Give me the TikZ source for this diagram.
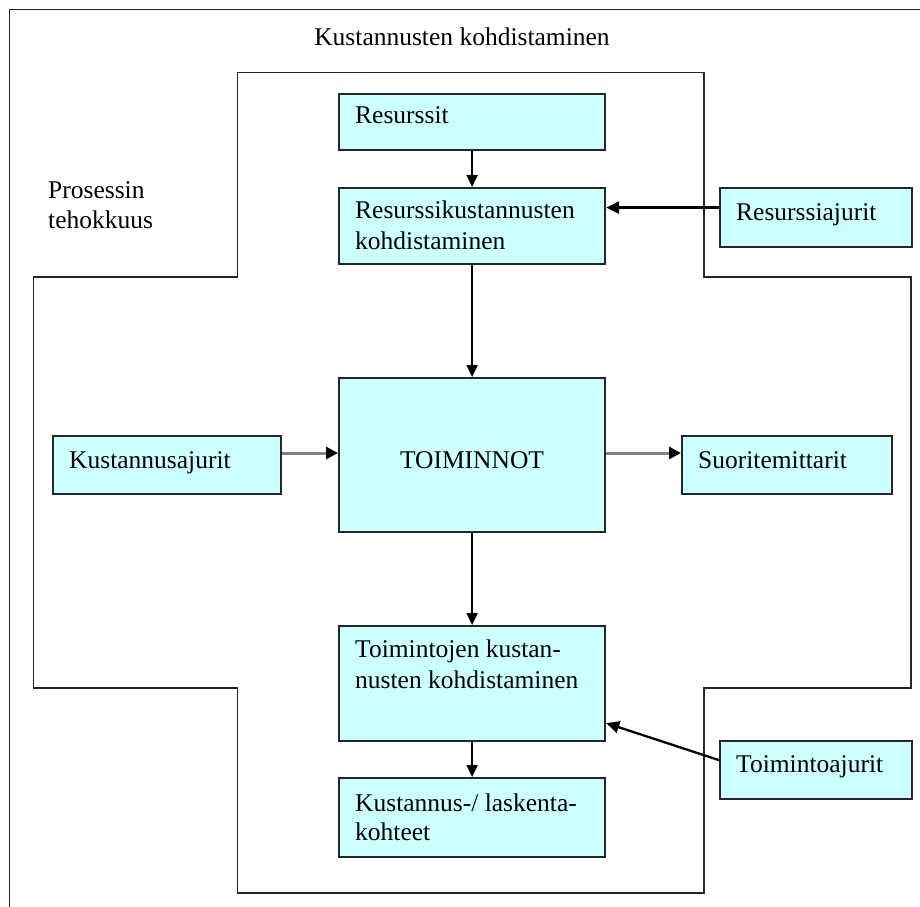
\documentclass[tikz,border=0pt]{standalone}
\usepackage{fontspec}
\setmainfont{Liberation Serif}
\usetikzlibrary{arrows.meta}
\definecolor{boxfill}{HTML}{CCFFFF}
\begin{document}
\begin{tikzpicture}[x=1pt,y=-1pt,
  box/.style={draw=black!85, line width=2.2pt, fill=boxfill, inner sep=0pt, anchor=north west},
  txt/.style={anchor=base west, inner sep=0pt, font=\fontsize{25.5}{31}\selectfont},
  outline/.style={line width=1.9pt, draw=black!85},
  flow/.style={line width=1.9pt, -{Triangle[length=12pt,width=11pt]}},
  driver/.style={line width=2.6pt, -{Triangle[length=13pt,width=12pt]}},
  sideflow/.style={line width=3pt, draw=black!50, -{Triangle[length=12pt,width=12pt,color=black]}}
]
\path[use as bounding box, clip] (0,0) rectangle (920,906);
\fill[white] (0,0) rectangle (920,906);

% outer frame, running past the page on the right and at the bottom
\draw[outline] (930,9.5) -- (9.5,9.5) -- (9.5,915);

% cross-shaped process area
\draw[outline] (237.5,72.5) -- (704,72.5) -- (704,277) -- (911,277) -- (911,688)
  -- (704,688) -- (704,893) -- (237.5,893) -- (237.5,688) -- (33.5,688)
  -- (33.5,277) -- (237.5,277) -- cycle;

% headings
\node[txt, anchor=base] (title) at (462,45) {Kustannusten kohdistaminen};
\node[txt] (pt1) at (48,198) {Prosessin};
\node[txt] (pt2) at (48,228) {tehokkuus};

% boxes
\node[box, minimum width=266pt, minimum height=56pt]  (res)  at (338,93)  {};
\node[box, minimum width=266pt, minimum height=76pt]  (rk)   at (338,187) {};
\node[box, minimum width=192pt, minimum height=59pt]  (ra)   at (719,187) {};
\node[box, minimum width=228pt, minimum height=58pt]  (ka)   at (52,435)  {};
\node[box, minimum width=266pt, minimum height=154pt] (toim) at (338,377) {};
\node[box, minimum width=210pt, minimum height=58pt]  (sm)   at (681,435) {};
\node[box, minimum width=266pt, minimum height=115pt] (tk)   at (338,625) {};
\node[box, minimum width=266pt, minimum height=79pt]  (kl)   at (338,777) {};
\node[box, minimum width=192pt, minimum height=58pt]  (ta)   at (719,740) {};

% box texts
\node[txt] (t-res)  at (355,123) {Resurssit};
\node[txt] (t-rk1)  at (355,218) {Resurssikustannusten};
\node[txt] (t-rk2)  at (355,249) {kohdistaminen};
\node[txt] (t-ra)   at (736,220) {Resurssiajurit};
\node[txt] (t-ka)   at (69,468)  {Kustannusajurit};
\node[txt, anchor=base] (t-toim) at (472,468) {TOIMINNOT};
\node[txt] (t-sm)   at (698,468) {Suoritemittarit};
\node[txt] (t-tk1)  at (355,657) {Toimintojen kustan-};
\node[txt] (t-tk2)  at (355,688) {nusten kohdistaminen};
\node[txt] (t-kl1)  at (355,811) {Kustannus-/ laskenta-};
\node[txt] (t-kl2)  at (355,840) {kohteet};
\node[txt] (t-ta)   at (736,772) {Toimintoajurit};

% connector end points
\coordinate (raOut) at ([yshift=10pt]ra.west);
\coordinate (taOut) at ([yshift=10pt]ta.west);
\coordinate (tkIn)  at ([yshift=-39.5pt]tk.east);
\coordinate (midY)  at (0,453);

% connectors
\draw[flow] (res.south) -- (rk.north);
\draw[driver] (raOut) -- (rk.east |- raOut);
\draw[flow] (rk.south) -- (toim.north);
\draw[sideflow] (ka.east |- midY) -- (toim.west |- midY);
\draw[sideflow] (toim.east |- midY) -- (sm.west |- midY);
\draw[flow] (toim.south) -- (tk.north);
\draw[driver, line width=2.3pt] (taOut) -- (tkIn);
\draw[flow] (tk.south) -- (kl.north);
\end{tikzpicture}
\end{document}
